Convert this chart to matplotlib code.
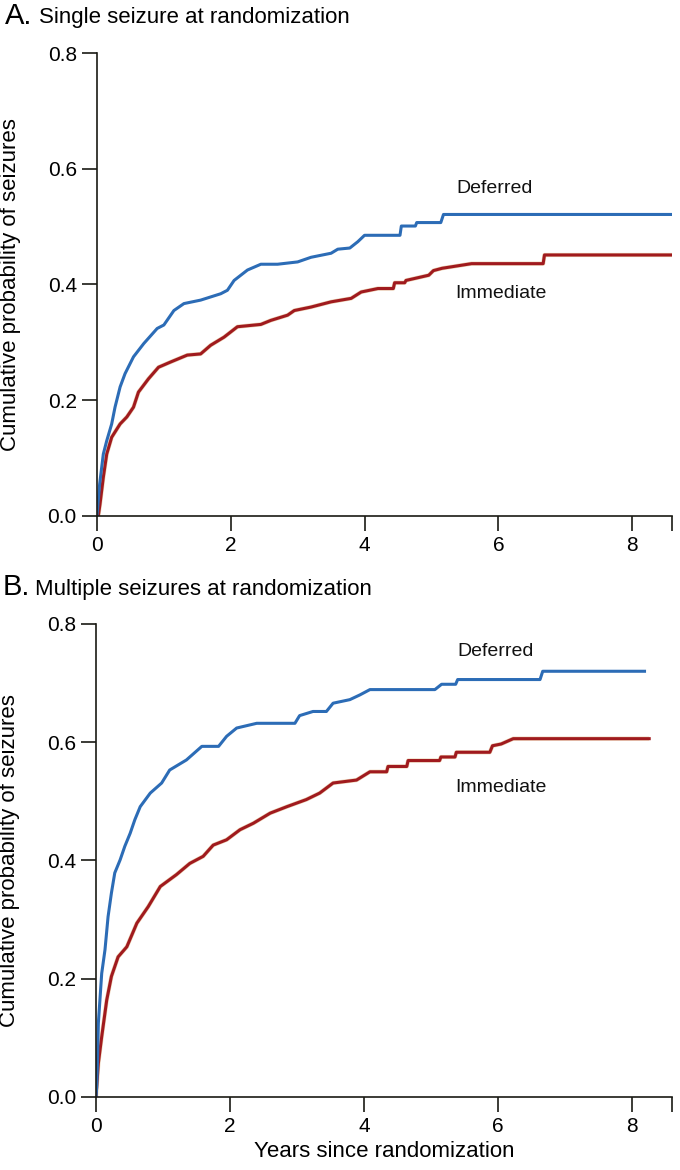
import numpy as np
import matplotlib
matplotlib.use("Agg")
import matplotlib.pyplot as plt

plt.rcParams['font.family'] = ['Liberation Sans', 'DejaVu Sans']

# Panel A: single seizure at randomization (years, cumulative probability)
a_def_t = [0, 0.04, 0.095, 0.146, 0.22, 0.27, 0.346, 0.42, 0.546, 0.70, 0.90, 1.0,
           1.15, 1.30, 1.55, 1.85, 1.95, 2.05, 2.25, 2.45, 2.70, 3.0, 3.2, 3.5, 3.6,
           3.78, 3.9, 4.0, 4.53, 4.55, 4.76, 4.78, 5.14, 5.18, 8.6]
a_def_p = [0, 0.055, 0.107, 0.130, 0.159, 0.188, 0.223, 0.246, 0.275, 0.298, 0.324, 0.330,
           0.355, 0.367, 0.373, 0.384, 0.390, 0.407, 0.425, 0.435, 0.435, 0.439, 0.447, 0.454, 0.461,
           0.463, 0.474, 0.485, 0.485, 0.501, 0.501, 0.507, 0.507, 0.521, 0.521]

a_imm_t = [0.02, 0.045, 0.095, 0.146, 0.22, 0.346, 0.446, 0.546, 0.62, 0.77, 0.92, 1.10,
           1.35, 1.55, 1.70, 1.90, 2.10, 2.45, 2.60, 2.85, 2.95, 3.2, 3.5, 3.8, 3.95,
           4.2, 4.43, 4.45, 4.6, 4.62, 4.96, 5.03, 5.16, 5.6, 6.67, 6.69, 8.6]
a_imm_p = [0.0, 0.02, 0.067, 0.107, 0.136, 0.159, 0.171, 0.188, 0.214, 0.237, 0.257, 0.266,
           0.278, 0.280, 0.295, 0.309, 0.327, 0.331, 0.338, 0.347, 0.355, 0.361, 0.370, 0.376, 0.387,
           0.393, 0.393, 0.403, 0.403, 0.407, 0.416, 0.424, 0.428, 0.436, 0.436, 0.451, 0.451]

# Panel B: multiple seizures at randomization
b_def_t = [0, 0.01, 0.02, 0.035, 0.085, 0.134, 0.18, 0.23, 0.28, 0.36, 0.43, 0.51, 0.58,
           0.66, 0.81, 0.98, 1.10, 1.35, 1.58, 1.83, 1.95, 2.10, 2.40, 2.97, 3.04, 3.24,
           3.44, 3.54, 3.79, 3.94, 4.09, 5.06, 5.16, 5.37, 5.40, 6.63, 6.67, 8.19]
b_def_p = [0, 0.017, 0.05, 0.125, 0.209, 0.249, 0.305, 0.345, 0.379, 0.401, 0.424, 0.446, 0.469,
           0.491, 0.514, 0.531, 0.553, 0.570, 0.593, 0.593, 0.610, 0.624, 0.632, 0.632, 0.645, 0.652,
           0.652, 0.666, 0.672, 0.680, 0.689, 0.689, 0.698, 0.698, 0.706, 0.706, 0.720, 0.720]

b_imm_t = [0, 0.01, 0.035, 0.085, 0.16, 0.23, 0.33, 0.46, 0.61, 0.78, 0.96, 1.20, 1.40,
           1.60, 1.75, 1.95, 2.15, 2.35, 2.60, 2.85, 3.14, 3.34, 3.54, 3.89, 4.09, 4.34,
           4.36, 4.64, 4.66, 5.13, 5.15, 5.36, 5.38, 5.88, 5.92, 6.05, 6.23, 8.26]
b_imm_p = [0.0, 0.017, 0.057, 0.102, 0.164, 0.204, 0.237, 0.254, 0.294, 0.322, 0.356, 0.376, 0.395,
           0.407, 0.426, 0.435, 0.452, 0.463, 0.480, 0.491, 0.503, 0.514, 0.531, 0.536, 0.550, 0.550,
           0.559, 0.559, 0.569, 0.569, 0.575, 0.575, 0.583, 0.583, 0.594, 0.597, 0.606, 0.606]

blue = '#2c6cb6'
red = '#a01a1e'
ink = '#1a1a14'

fig = plt.figure(figsize=(6.8, 11.7), dpi=100)

axA = fig.add_axes([0.1426, 0.559, 0.846, 0.3957])
axB = fig.add_axes([0.1412, 0.0624, 0.847, 0.4043])

panels = [
    (axA, a_def_t, a_def_p, a_imm_t, a_imm_p, (5.38, 0.558), (5.35, 0.3765)),
    (axB, b_def_t, b_def_p, b_imm_t, b_imm_p, (5.39, 0.745), (5.36, 0.516)),
]

for ax, dt, dp, it, ip, dpos, ipos in panels:
    # faint orange halo around the red curve, as in the scanned original
    ax.plot(it, ip, color='#c8802a', lw=3.0, alpha=0.35, solid_capstyle='butt')
    ax.plot(it, ip, color=red, lw=2.2)
    ax.plot(dt, dp, color=blue, lw=2.2)
    ax.text(dpos[0], dpos[1], 'Deferred', fontsize=14, color='#111111', ha='left', va='baseline')
    ax.text(ipos[0], ipos[1], 'Immediate', fontsize=14, color='#111111', ha='left', va='baseline')

    ax.set_xlim(0, 8.6)
    ax.set_ylim(0, 0.8)
    ax.set_xticks([0, 2, 4, 6, 8])
    ax.set_xticks([8.6], minor=True)
    ax.set_yticks([0.0, 0.2, 0.4, 0.6, 0.8])
    ax.set_yticklabels(['0.0', '0.2', '0.4', '0.6', '0.8'])
    for s in ['top', 'right']:
        ax.spines[s].set_visible(False)
    for s in ['left', 'bottom']:
        ax.spines[s].set_color(ink)
        ax.spines[s].set_linewidth(1.2)
    ax.tick_params(which='both', direction='out', length=11, width=1.2, color=ink,
                   labelsize=15, pad=3.5)
    ax.set_ylabel('Cumulative probability of seizures', fontsize=16)
    ax.yaxis.set_label_coords(-0.132, 0.5)

axB.set_xlabel('Years since randomization', fontsize=16)
axB.xaxis.set_label_coords(0.5, -0.094)

fig.text(5 / 680, 1 - 23.5 / 1170, 'A.', fontsize=21, va='baseline', ha='left')
fig.text(39 / 680, 1 - 23.5 / 1170, 'Single seizure at randomization', fontsize=16,
         va='baseline', ha='left')
fig.text(3 / 680, 1 - 595 / 1170, 'B.', fontsize=21, va='baseline', ha='left')
fig.text(35 / 680, 1 - 595 / 1170, 'Multiple seizures at randomization', fontsize=16,
         va='baseline', ha='left')

fig.savefig('out.png', dpi=100)
